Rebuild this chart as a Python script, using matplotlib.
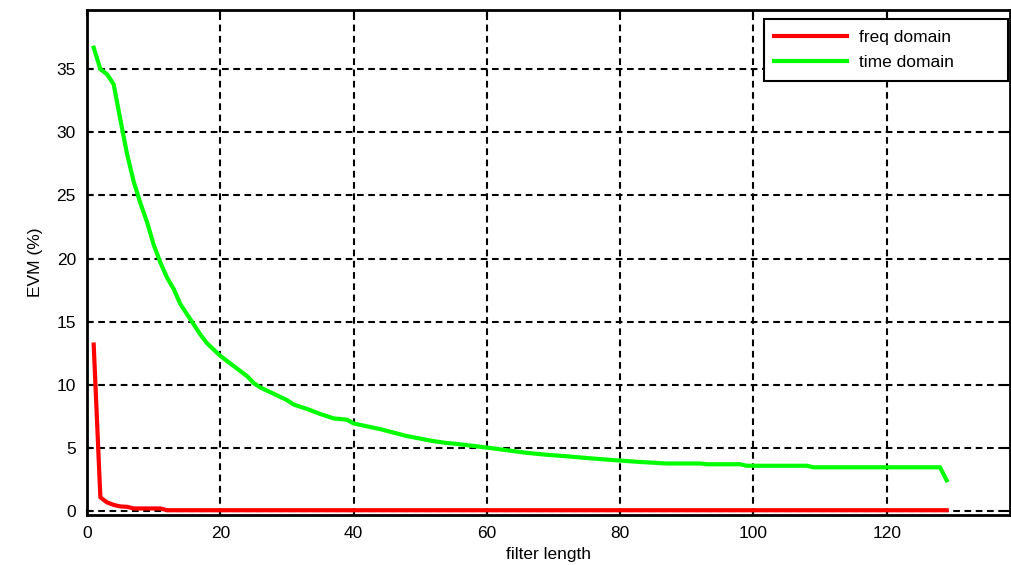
import matplotlib
matplotlib.use('Agg')
import matplotlib.pyplot as plt

# filter length vs EVM
x_time = [1, 2, 3, 4, 5, 6, 7, 8, 9, 10, 11, 12, 13, 14, 15, 16, 17, 18, 19, 20,
          22, 24, 25, 26, 28, 30, 31, 33, 35, 37, 39, 40, 44, 48, 52, 54, 55, 58,
          60, 63, 66, 69, 72, 76, 79, 83, 87, 92, 93, 98, 99, 108, 109, 128, 129]
evm_time = [36.7, 35.0, 34.6, 33.8, 31.0, 28.3, 26.1, 24.4, 22.9, 21.1, 19.7, 18.5,
            17.6, 16.4, 15.6, 14.8, 14.0, 13.3, 12.8, 12.3,
            11.5, 10.7, 10.15, 9.8, 9.3, 8.8, 8.45, 8.1, 7.7, 7.35, 7.25, 6.95, 6.5,
            5.95, 5.55, 5.4, 5.36, 5.17, 5.04, 4.83, 4.62, 4.47, 4.35, 4.17, 4.05,
            3.9, 3.78, 3.78, 3.72, 3.72, 3.6, 3.6, 3.48, 3.48, 2.45]

x_freq = [1, 2, 3, 4, 5, 6, 7, 11, 12, 129]
evm_freq = [13.2, 1.1, 0.7, 0.5, 0.38, 0.35, 0.22, 0.22, 0.08, 0.08]

xticks = [0, 20, 40, 60, 80, 100, 120]
yticks = [0, 5, 10, 15, 20, 25, 30, 35]

plt.rcParams['font.family'] = ['Liberation Sans', 'DejaVu Sans']

fig = plt.figure(figsize=(10.12, 5.65), dpi=100)
ax = fig.add_axes([0.086, 0.088, 0.912, 0.894])

ax.plot(x_freq, evm_freq, color='#ff0000', lw=3, label='freq domain')
ax.plot(x_time, evm_time, color='#00ff00', lw=3, label='time domain')

ax.set_xlim(0, 138.5)
ax.set_ylim(-0.32, 39.67)
ax.set_xticks(xticks)
ax.set_yticks(yticks)
ax.grid(True, color='black', linestyle=(0, (3.2, 2.2)), linewidth=1.5)
ax.tick_params(direction='in', top=True, right=True, length=4, width=1.5,
               labelsize=12.5, pad=8)
for s in ax.spines.values():
    s.set_linewidth(2)

ax.set_xlabel('filter length', fontsize=12.5, labelpad=4)
ax.set_ylabel('EVM (%)', fontsize=12.5, labelpad=10)

leg = ax.legend(loc='upper left', bbox_to_anchor=(0.7335, 0.861, 0.2645, 0.121),
                mode='expand', borderaxespad=0, fontsize=12.5, handlelength=4.2,
                fancybox=False, framealpha=1, edgecolor='black',
                labelspacing=0.6, borderpad=0.6, handletextpad=0.65)
leg.get_frame().set_linewidth(1.5)

fig.savefig('out.png', dpi=100)
